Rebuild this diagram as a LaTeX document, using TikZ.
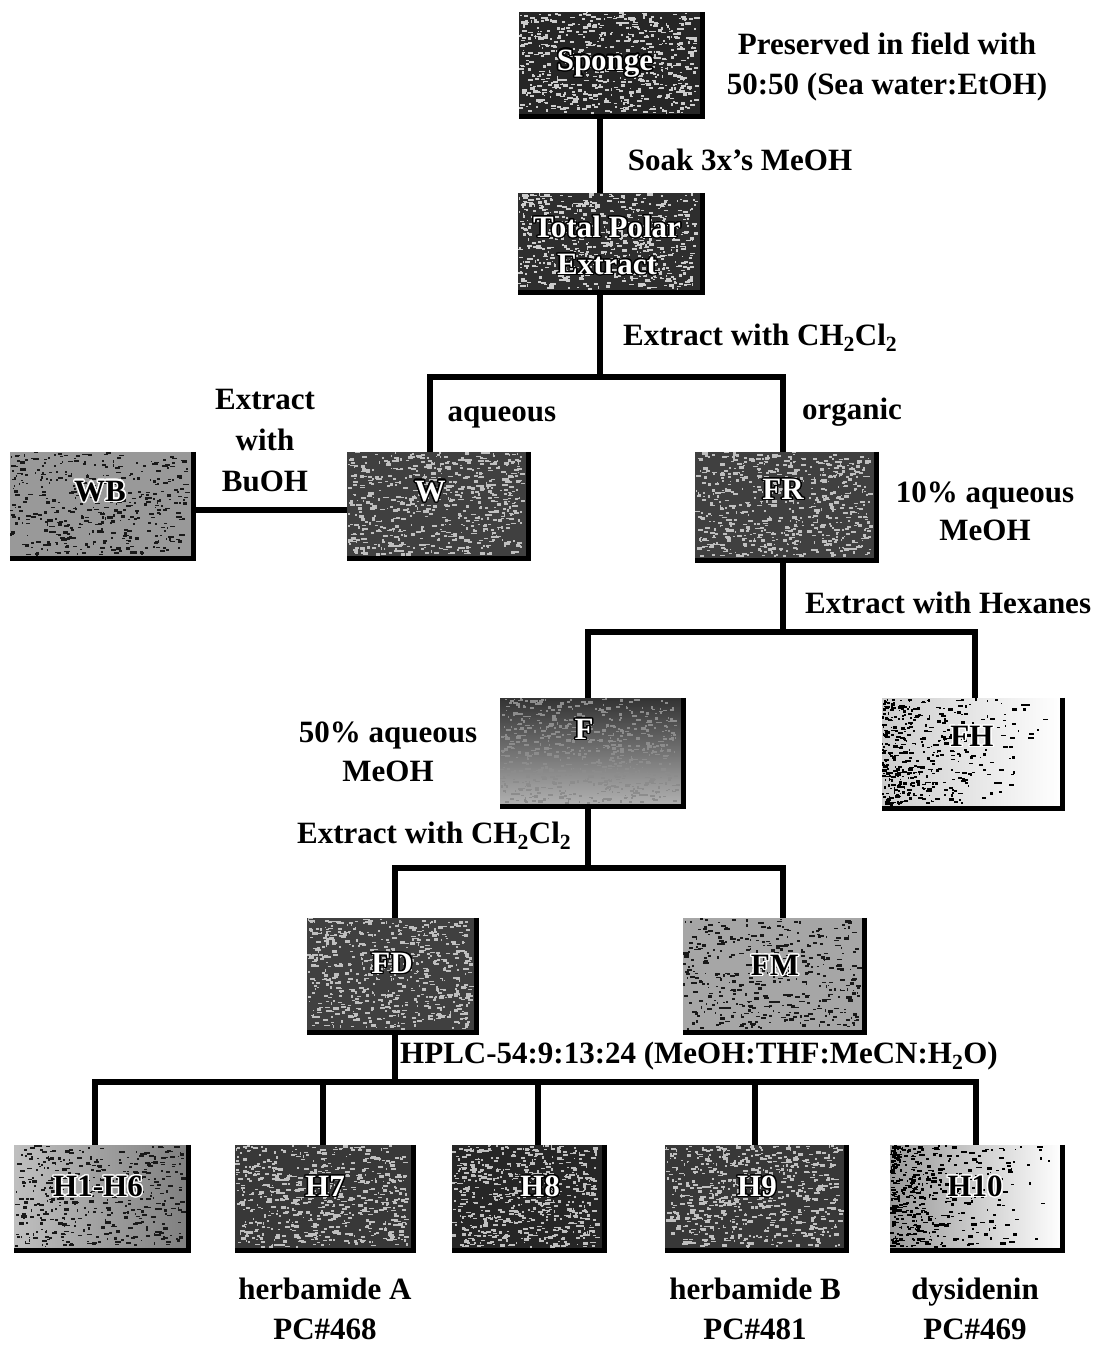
\documentclass[tikz,border=0pt]{standalone}
\usepackage{fontspec}
\setmainfont{Liberation Serif}
\usepackage{contour}
\contourlength{1.4pt}
\usetikzlibrary{calc}

\tikzset{
  txt/.style={font=\bfseries\fontsize{31}{40}\selectfont},
  note/.style={txt, inner sep=0pt, align=center},
  tag/.style={txt, inner sep=0pt, align=center},
  link/.style={line width=6pt, line join=miter},
  rim/.style={line width=5pt, line join=miter},
  box/.style={inner sep=0pt, draw=none},
}
\newcommand\darklbl[1]{{\color{white}\contour{black}{#1}}}
\newcommand\lightlbl[1]{{\color{black}\contour{white}{#1}}}

% horizontal spread of the grain inside a sample box
\newcommand\xspread{rnd}
\newcommand\grainn{650}
% grainy sample box: name, x1, y1, x2, y2, fill keys, grain colour
\newcommand\sample[7]{%
  \pgfmathsetmacro\bw{#4-#2}%
  \pgfmathsetmacro\bh{#5-#3}%
  \node[box,#6,minimum width=\bw pt,minimum height=\bh pt] (#1) at ({(#2+#4)/2},{(#3+#5)/2}) {};
  \foreach \k in {1,...,\grainn}{%
    \fill[#7] ({#2+\xspread*(\bw-7)},{#3+rnd*(\bh-4)}) rectangle ++({1+4.5*rnd},{1+1.8*rnd});
  }%
  \draw[rim] (#1.north east) -- (#1.south east) -- (#1.south west);
}

\begin{document}
\begin{tikzpicture}[x=1pt,y=-1pt]
\pgfmathsetseed{4711}
\fill[white] (0,0) rectangle (1101,1346);
\useasboundingbox (0,0) rectangle (1101,1346);

% junctions of the flow lines
\coordinate (split1) at (600,377);
\coordinate (dropW) at (430,377);
\coordinate (dropFR) at (783,377);
\coordinate (bu) at (270,510);
\coordinate (split2) at (783,632);
\coordinate (dropF) at (588,632);
\coordinate (dropFH) at (975,632);
\coordinate (split3) at (588,868);
\coordinate (dropFD) at (395,868);
\coordinate (dropFM) at (783,868);
\coordinate (split4) at (395,1082);
\coordinate (d1) at (95,1082);
\coordinate (d2) at (323,1082);
\coordinate (d3) at (538,1082);
\coordinate (d4) at (755,1082);
\coordinate (d5) at (976,1082);

% sample boxes
\sample{sponge}{519}{12}{702}{116}{fill=black!85}{white!80!black}
\sample{tpe}{518}{193}{702}{292}{fill=black!82}{white!80!black}
\sample{w}{347}{452}{528}{558}{fill=black!75}{white!75!black}
\sample{fr}{695}{452}{876}{560}{fill=black!75}{white!75!black}
\sample{f}{500}{698}{683}{806}{top color=black!80,bottom color=black!30}{white!55!black}
\sample{fd}{307}{918}{476}{1032}{fill=black!75}{white!75!black}
\sample{hb}{235}{1145}{413}{1250}{fill=black!78}{white!75!black}
\sample{hc}{452}{1145}{604}{1250}{fill=black!85}{white!75!black}
\sample{hd}{665}{1145}{846}{1250}{fill=black!78}{white!75!black}
\renewcommand\grainn{420}
\sample{wb}{10}{452}{193}{558}{fill=black!40}{black!90}
\sample{fm}{683}{918}{864}{1032}{fill=black!35}{black!90}
\sample{ha}{14}{1145}{188}{1250}{left color=black!25,right color=black!50}{black!90}
\renewcommand\xspread{rnd*rnd}
\sample{fh}{882}{698}{1062}{808}{left color=black!20,right color=white}{black}
\sample{he}{890}{1145}{1062}{1250}{left color=black!40,right color=white}{black}

% box labels
\node[tag] (spongel) at (605,64) {\darklbl{Sponge}};
\node[tag, font=\bfseries\fontsize{31}{37}\selectfont] (tpel) at (607,246) {\darklbl{Total Polar}\\\darklbl{Extract}};
\node[tag] (wbl) at (100,492) {\lightlbl{WB}};
\node[tag] (wl) at (430,492) {\darklbl{W}};
\node[tag] (frl) at (783,490) {\darklbl{FR}};
\node[tag] (fl) at (584,730) {\darklbl{F}};
\node[tag] (fhl) at (972,737) {\lightlbl{FH}};
\node[tag] (fdl) at (392,964) {\darklbl{FD}};
\node[tag] (fml) at (775,966) {\lightlbl{FM}};
\node[tag] (hal) at (98,1187) {\lightlbl{H1-H6}};
\node[tag] (hbl) at (325,1187) {\darklbl{H7}};
\node[tag] (hcl) at (540,1187) {\darklbl{H8}};
\node[tag] (hdl) at (757,1187) {\darklbl{H9}};
\node[tag] (hel) at (975,1187) {\lightlbl{H10}};

% flow lines
\draw[link] (sponge.south -| split1) -- (tpe.north -| split1);
\draw[link] (tpe.south -| split1) -- (split1);
\draw[link] (w.north -| dropW) -- (dropW) -- (dropFR) -- (fr.north -| dropFR);
\draw[link] (wb.east |- bu) -- (w.west |- bu);
\draw[link] (fr.south -| split2) -- (split2);
\draw[link] (f.north -| dropF) -- (dropF) -- (dropFH) -- (fh.north -| dropFH);
\draw[link] (f.south -| split3) -- (split3);
\draw[link] (fd.north -| dropFD) -- (dropFD) -- (dropFM) -- (fm.north -| dropFM);
\draw[link] (fd.south -| split4) -- (split4);
\draw[link] (ha.north -| d1) -- (d1) -- (d5) -- (he.north -| d5);
\draw[link] (hb.north -| d2) -- (d2);
\draw[link] (hc.north -| d3) -- (d3);
\draw[link] (hd.north -| d4) -- (d4);

% procedure notes
\node[note] (pres) at (887,67) {Preserved in field with\\50:50 (Sea water:EtOH)};
\node[note] (soak) at (740,160) {Soak 3x's MeOH};
\node[note, anchor=west] (ex1) at (623,338) {Extract with CH\textsubscript{2}Cl\textsubscript{2}};
\node[note] (aq) at (502,417) {aqueous};
\node[note] (org) at (852,412) {organic};
\node[note, font=\bfseries\fontsize{31}{41}\selectfont] (butx) at (265,441) {Extract\\with\\BuOH};
\node[note, font=\bfseries\fontsize{31}{38}\selectfont] (ten) at (985,511) {10\% aqueous\\MeOH};
\node[note, anchor=west] (hex) at (805,603) {Extract with Hexanes};
\node[note, font=\bfseries\fontsize{31}{39}\selectfont] (fifty) at (388,752) {50\% aqueous\\MeOH};
\node[note, anchor=west] (ex2) at (297,836) {Extract with CH\textsubscript{2}Cl\textsubscript{2}};
\node[note, anchor=west] (hplc) at (400,1056) {HPLC-54:9:13:24 (MeOH:THF:MeCN:H\textsubscript{2}O)};
\node[note] (na) at (325,1309) {herbamide A\\PC\#468};
\node[note] (nb) at (755,1309) {herbamide B\\PC\#481};
\node[note] (nc) at (975,1309) {dysidenin\\PC\#469};
\end{tikzpicture}
\end{document}
